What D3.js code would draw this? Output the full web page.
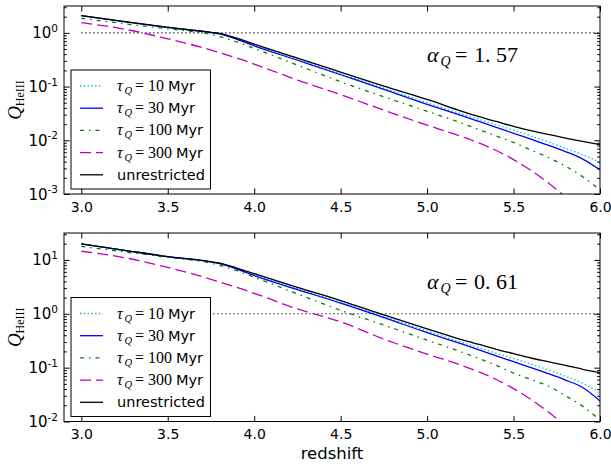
<!DOCTYPE html>
<html>
<head>
<meta charset="utf-8">
<script src="https://cdn.jsdelivr.net/npm/d3@7"></script>
<style>
  body { margin: 0; background: #fff; }
  svg { display: block; }
</style>
</head>
<body>
<svg id="chart" width="611" height="466"></svg>
<script>
// Redshift sampling points shared by every curve
const redshift = [3.0, 3.25, 3.5, 3.75, 3.8, 3.9, 4.0, 4.25, 4.5, 4.75, 5.0, 5.2, 5.3, 5.4, 5.5, 5.6, 5.7, 5.8, 5.9, 6.0];

// Q_HeIII for alpha_Q = 1.57
const q157_tau10  = [2.09, 1.62, 1.27, 1.02, 0.966, 0.776, 0.596, 0.324, 0.174, 0.0933, 0.0501, 0.0309, 0.0245, 0.0195, 0.0155, 0.0120, 0.00933, 0.00708, 0.00537, 0.00389];
const q157_tau30  = [2.09, 1.62, 1.27, 1.02, 0.955, 0.759, 0.575, 0.309, 0.166, 0.0891, 0.0468, 0.0288, 0.0224, 0.0174, 0.0135, 0.0105, 0.00813, 0.00617, 0.00447, 0.00282];
const q157_tau100 = [1.86, 1.48, 1.19, 0.933, 0.851, 0.676, 0.513, 0.251, 0.123, 0.0646, 0.0347, 0.0209, 0.0158, 0.0120, 0.00912, 0.00661, 0.00479, 0.00331, 0.00209, 0.00120];
const q157_tau300 = [1.55, 1.17, 0.776, 0.479, 0.427, 0.339, 0.263, 0.132, 0.0708, 0.0363, 0.0191, 0.0117, 0.00891, 0.00646, 0.00437, 0.00275, 0.00162, 0.000871, 0.000447, 0.000224];
const q157_unres  = [2.09, 1.62, 1.27, 1.02, 0.977, 0.794, 0.617, 0.339, 0.186, 0.102, 0.0575, 0.0347, 0.0275, 0.0224, 0.0182, 0.0151, 0.0129, 0.0110, 0.00955, 0.00832];

// Q_HeIII for alpha_Q = 0.61
const q061_tau10  = [19.8, 15.1, 11.5, 9.23, 8.61, 6.92, 5.31, 2.95, 1.64, 0.891, 0.479, 0.295, 0.234, 0.186, 0.148, 0.117, 0.0912, 0.0692, 0.0513, 0.0339];
const q061_tau30  = [19.8, 15.1, 11.5, 9.23, 8.51, 6.76, 5.13, 2.82, 1.58, 0.851, 0.447, 0.275, 0.214, 0.166, 0.129, 0.100, 0.0776, 0.0589, 0.0427, 0.0240];
const q061_tau100 = [17.8, 14.1, 11.2, 8.71, 7.94, 6.31, 4.79, 2.34, 1.16, 0.617, 0.324, 0.195, 0.148, 0.110, 0.0794, 0.0603, 0.0457, 0.0302, 0.0191, 0.0107];
const q061_tau300 = [14.5, 11.0, 7.24, 4.37, 3.89, 3.09, 2.40, 1.23, 0.708, 0.339, 0.178, 0.110, 0.0832, 0.0603, 0.0407, 0.0257, 0.0151, 0.00813, 0.00417, 0.00209];
const q061_unres  = [19.8, 15.1, 11.5, 9.23, 8.71, 7.08, 5.56, 3.09, 1.76, 0.955, 0.527, 0.331, 0.269, 0.219, 0.182, 0.151, 0.129, 0.110, 0.0933, 0.0807];

// Legend entries (quasar lifetimes in Myr) and panel labels
const lifetimes = ["10", "30", "100", "300"];
const alphaLabels = [["1.", "57"], ["0.", "61"]];
const xTicks = [3.0, 3.5, 4.0, 4.5, 5.0, 5.5, 6.0];
const unityZ = [3.0, 6.0];
const unityQ = 1;

const styles = [
  { color: "#00bfbf", dash: "1.4,2.4", width: 1.3 },
  { color: "#0000ff", dash: null, width: 1.3 },
  { color: "#008000", dash: "4,5,1.5,5", width: 1.3 },
  { color: "#bf00bf", dash: "11,5", width: 1.3 },
  { color: "#000000", dash: null, width: 1.3 }
];

const panels = [
  { top: 6, bottom: 194, yDomain: [1e-3, Math.pow(10, 0.5)], yTicks: [1e-3, 1e-2, 1e-1, 1],
    series: [q157_tau10, q157_tau30, q157_tau100, q157_tau300, q157_unres], alpha: alphaLabels[0] },
  { top: 233, bottom: 421.5, yDomain: [1e-2, Math.pow(10, 1.5)], yTicks: [1e-2, 1e-1, 1, 10],
    series: [q061_tau10, q061_tau30, q061_tau100, q061_tau300, q061_unres], alpha: alphaLabels[1] }
];

const left = 64, right = 600;
const svg = d3.select("#chart");
const serif = "'Liberation Serif', 'DejaVu Serif', serif";
const sans = "'DejaVu Sans', sans-serif";

const x = d3.scaleLinear().domain([2.9, 6.0]).range([left, right]);

panels.forEach((p, pi) => {
  const y = d3.scaleLog().domain(p.yDomain).range([p.bottom, p.top]);
  const g = svg.append("g");

  const clipId = "clip" + pi;
  svg.append("clipPath").attr("id", clipId)
    .append("rect").attr("x", left).attr("y", p.top)
    .attr("width", right - left).attr("height", p.bottom - p.top);

  const plot = g.append("g").attr("clip-path", `url(#${clipId})`);

  // dotted reference line at Q = 1
  plot.append("line")
    .attr("x1", x(unityZ[0])).attr("x2", x(unityZ[1]))
    .attr("y1", y(unityQ)).attr("y2", y(unityQ))
    .attr("stroke", "#000").attr("stroke-width", 1.1)
    .attr("stroke-dasharray", "1.2,2.8");

  const line = d3.line()
    .x((d, i) => x(redshift[i]))
    .y(d => y(d))
    .curve(d3.curveMonotoneX);

  p.series.forEach((vals, si) => {
    const s = styles[si];
    plot.append("path")
      .attr("d", line(vals))
      .attr("fill", "none")
      .attr("stroke", s.color)
      .attr("stroke-width", s.width)
      .attr("stroke-dasharray", s.dash);
  });

  // axes with inward ticks on all four sides
  const tickLen = 5.6, minorLen = 2.8;
  const xb = g.append("g").attr("transform", `translate(0,${p.bottom})`)
    .call(d3.axisBottom(x).tickValues(xTicks).tickFormat(d3.format(".1f"))
      .tickSizeInner(-tickLen).tickSizeOuter(0).tickPadding(8));
  g.append("g").attr("transform", `translate(0,${p.top})`)
    .call(d3.axisTop(x).tickValues(xTicks).tickFormat("")
      .tickSizeInner(-tickLen).tickSizeOuter(0));

  const minor = [];
  for (let e = -4; e <= 2; e++) {
    for (let k = 2; k <= 9; k++) {
      const v = k * Math.pow(10, e);
      if (v > p.yDomain[0] && v < p.yDomain[1]) minor.push(v);
    }
  }
  g.append("g").attr("transform", `translate(${left},0)`)
    .call(d3.axisLeft(y).tickValues(p.yTicks).tickFormat("")
      .tickSizeInner(-tickLen).tickSizeOuter(0));
  g.append("g").attr("transform", `translate(${right},0)`)
    .call(d3.axisRight(y).tickValues(p.yTicks).tickFormat("")
      .tickSizeInner(-tickLen).tickSizeOuter(0));
  g.append("g").attr("transform", `translate(${left},0)`)
    .call(d3.axisLeft(y).tickValues(minor).tickFormat("")
      .tickSizeInner(-minorLen).tickSizeOuter(0));
  g.append("g").attr("transform", `translate(${right},0)`)
    .call(d3.axisRight(y).tickValues(minor).tickFormat("")
      .tickSizeInner(-minorLen).tickSizeOuter(0));

  g.selectAll(".domain").remove();
  g.selectAll(".tick line").attr("stroke", "#000").attr("stroke-width", 1);
  xb.selectAll("text").attr("font-family", sans).attr("font-size", "14px").attr("fill", "#000");

  // power-of-ten labels on the y axis
  const ylab = g.append("g");
  p.yTicks.forEach(v => {
    const ex = Math.round(Math.log10(v));
    const t = ylab.append("text")
      .attr("x", left - 6).attr("y", y(v) + 5.5)
      .attr("text-anchor", "end")
      .attr("font-family", sans).attr("font-size", "15px").attr("fill", "#000");
    t.append("tspan").text("10");
    t.append("tspan").attr("dy", -6.5).attr("font-size", "10.5px").text(ex.toString());
  });

  // frame
  g.append("rect")
    .attr("x", left).attr("y", p.top)
    .attr("width", right - left).attr("height", p.bottom - p.top)
    .attr("fill", "none").attr("stroke", "#000").attr("stroke-width", 1);

  // y-axis title
  const yc = (p.top + p.bottom) / 2;
  const yt = g.append("text")
    .attr("transform", `translate(21,${yc}) rotate(-90)`)
    .attr("text-anchor", "middle").attr("fill", "#000");
  yt.append("tspan").attr("font-family", serif).attr("font-style", "italic").attr("font-size", "19px").text("Q");
  yt.append("tspan").attr("font-family", serif).attr("font-size", "12px").attr("dy", 3).text("HeIII");

  // alpha_Q annotation
  const ab = p.top + 55.7;
  const at = g.append("text").attr("fill", "#000").attr("font-family", serif).attr("font-size", "22px");
  at.append("tspan").attr("x", 427).attr("y", ab).attr("font-style", "italic").text("α");
  at.append("tspan").attr("x", 440.5).attr("y", ab + 4.5).attr("font-style", "italic").attr("font-size", "14px").text("Q");
  at.append("tspan").attr("x", 455).attr("y", ab).text("=");
  at.append("tspan").attr("x", 474).attr("y", ab).text(p.alpha[0]);
  at.append("tspan").attr("x", 496).attr("y", ab).text(p.alpha[1]);

  // legend
  const lgBottom = p.bottom - 5;
  const lgTop = lgBottom - 119;
  const lg = g.append("g");
  lg.append("rect").attr("x", 71).attr("y", lgTop).attr("width", 139.5).attr("height", 119)
    .attr("fill", "#fff").attr("stroke", "#000").attr("stroke-width", 1);
  const labels = lifetimes.concat(["unrestricted"]);
  labels.forEach((lab, i) => {
    const ry = lgTop + 16 + i * 22.2;
    const s = styles[i];
    lg.append("line").attr("x1", 80).attr("x2", 103).attr("y1", ry).attr("y2", ry)
      .attr("stroke", s.color).attr("stroke-width", s.width).attr("stroke-dasharray", s.dash);
    const t = lg.append("text").attr("y", ry + 5).attr("fill", "#000");
    if (i < 4) {
      t.append("tspan").attr("x", 117).attr("font-family", serif).attr("font-style", "italic").attr("font-size", "16px").text("τ");
      t.append("tspan").attr("x", 124.5).attr("dy", 3).attr("font-family", serif).attr("font-style", "italic").attr("font-size", "10.5px").text("Q");
      t.append("tspan").attr("x", 135).attr("dy", -3).attr("font-family", serif).attr("font-size", "16px").text("=");
      t.append("tspan").attr("x", 148).attr("font-family", serif).attr("font-size", "16px").text(lab);
      t.append("tspan").attr("dx", 4).attr("font-family", sans).attr("font-size", "14.5px").text("Myr");
    } else {
      t.append("tspan").attr("x", 117).attr("font-family", sans).attr("font-size", "14.5px").text(lab);
    }
  });
});

// x-axis title
svg.append("text")
  .attr("x", (left + right) / 2).attr("y", 459)
  .attr("text-anchor", "middle")
  .attr("font-family", sans).attr("font-size", "16.5px").attr("fill", "#000")
  .text("redshift");
</script>
</body>
</html>
